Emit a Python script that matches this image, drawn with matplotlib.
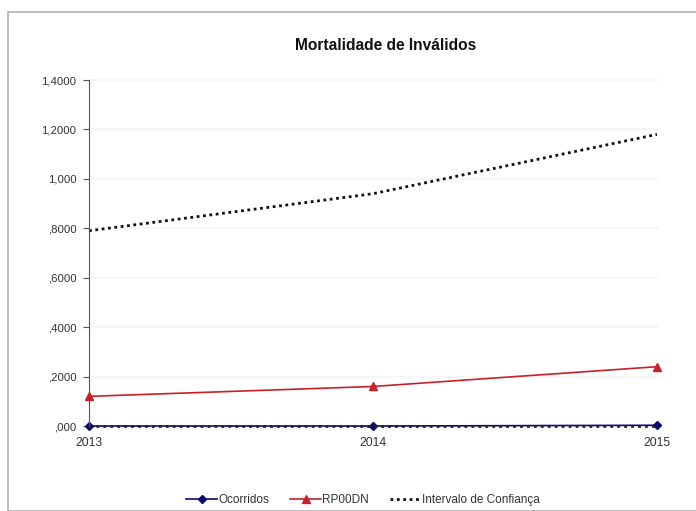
import matplotlib
matplotlib.use("Agg")
import matplotlib.pyplot as plt
from matplotlib.patches import Rectangle

years = [2013, 2014, 2015]
ocorridos = [0.0, 0.0, 0.003]
rp00dn = [0.12, 0.16, 0.24]
intervalo_sup = [0.79, 0.94, 1.18]
intervalo_inf = [0.0, 0.0, 0.0]

y_ticks = [0.0, 0.2, 0.4, 0.6, 0.8, 1.0, 1.2, 1.4]
y_tick_labels = [",000", ",2000", ",4000", ",6000", ",8000", "1,000", "1,2000", "1,4000"]

plt.rcParams["font.family"] = ["Liberation Sans", "DejaVu Sans"]

fig = plt.figure(figsize=(6.96, 5.11), dpi=100)
# outer chart frame
fig.patches.append(Rectangle((8 / 696, 0), 1, 1 - 12 / 511, transform=fig.transFigure,
                             fill=False, edgecolor="#b0b0b0", linewidth=1.2))

ax = fig.add_axes([0.1279, 0.1663, 0.816, 0.6771])

for y in y_ticks[1:]:
    ax.axhline(y, color="#f6f6f6", linewidth=1.5, zorder=0)

ax.plot(years, intervalo_inf, color="#222222", linestyle=(0, (1, 1.5)), linewidth=2, zorder=3)
ax.plot(years, ocorridos, color="#0a0a6e", marker="D", markersize=4, linewidth=1.2,
        label="Ocorridos", zorder=2)
ax.plot(years, rp00dn, color="#c8202a", marker="^", markersize=6, linewidth=1.2,
        label="RP00DN", zorder=2)
ax.plot(years, intervalo_sup, color="#111111", linestyle=(0, (1, 1.3)), linewidth=2.0,
        label="Intervalo de Confiança", zorder=2)

ax.set_xlim(years[0], years[-1])
ax.set_ylim(0, 1.4)
ax.set_xticks(years)
ax.set_xticklabels([str(y) for y in years])
ax.set_yticks(y_ticks)
ax.set_yticklabels(y_tick_labels)

for side in ("top", "right", "bottom"):
    ax.spines[side].set_visible(False)
ax.spines["left"].set_color("#555555")
ax.tick_params(axis="y", length=4, color="#555555", labelsize=8.2, labelcolor="#333333", pad=5)
ax.tick_params(axis="x", length=0, labelsize=8.8, labelcolor="#333333", pad=8)
for line in ax.lines:
    line.set_clip_on(False)

fig.text(386 / 696, 1 - 45 / 511, "Mortalidade de Inválidos", ha="center", va="center",
         fontsize=11.2, fontweight="bold", color="#111111")

fig.legend(loc="center", bbox_to_anchor=(363 / 696, 1 - 500 / 511), ncol=3, frameon=False,
           fontsize=8.5, handlelength=2.6, columnspacing=1.8, handletextpad=0.1,
           labelcolor="#333333")

fig.savefig("out.png", dpi=100)
